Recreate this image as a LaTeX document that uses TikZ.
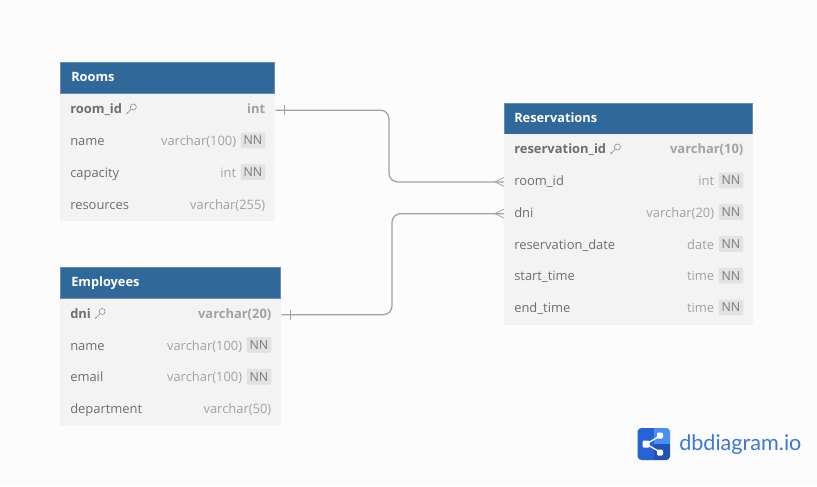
\documentclass[tikz,border=0pt]{standalone}
\usepackage{fontspec}
\setmainfont{Open Sans}
\newfontfamily\logofont{Lato}
\usetikzlibrary{calc}
\definecolor{pagebg}{HTML}{FCFCFD}
\definecolor{headblue}{HTML}{31689A}
\definecolor{rowbg}{HTML}{F3F3F3}
\definecolor{nametxt}{HTML}{6E6E6E}
\definecolor{typetxt}{HTML}{A2A2A2}
\definecolor{nnbg}{HTML}{E2E2E2}
\definecolor{nntxt}{HTML}{7C7C7C}
\definecolor{linkc}{HTML}{A0A1A8}
\definecolor{logodark}{HTML}{2563D6}
\definecolor{logolight}{HTML}{4A8FF5}
\definecolor{logotxt}{HTML}{3A78DC}
\tikzset{
  x=0.75pt,y=-0.75pt,
  tblhead/.style={anchor=north west,fill=headblue,draw=headblue!75!white,line width=0.3pt,inner sep=0pt,minimum height=23.6pt,text=white},
  tblrow/.style={anchor=north west,fill=rowbg,draw=none,inner sep=0pt,minimum height=23.81pt},
  headtxt/.style={anchor=west,text=white,font=\fontsize{9.6}{11}\selectfont\bfseries,inner sep=0pt,text height=7.2pt,text depth=2pt},
  coltxt/.style={anchor=west,yshift=-0.25pt,text=nametxt,font=\fontsize{9.7}{11}\selectfont,inner sep=0pt,text height=7.2pt,text depth=2pt},
  keytxt/.style={coltxt,font=\fontsize{9.7}{11}\selectfont\bfseries},
  typetx/.style={anchor=east,yshift=-0.25pt,text=typetxt,font=\fontsize{9.7}{11}\selectfont,inner sep=0pt,text height=7.2pt,text depth=2pt},
  keytype/.style={typetx,font=\fontsize{9.7}{11}\selectfont\bfseries},
  nnbadge/.style={anchor=east,yshift=1.1pt,fill=nnbg,text=nntxt,rounded corners=1pt,font=\fontsize{9.3}{10}\selectfont,inner xsep=2.2pt,inner ysep=0pt,minimum height=11.8pt,text height=6.8pt,text depth=0pt},
  link/.style={draw=linkc,line width=0.95pt,rounded corners=6.5pt},
  linkmark/.style={draw=linkc,line width=0.6pt},
  keyicon/.style={draw=nametxt!80!white,line width=0.45pt}
}
\newcommand{\keyglyph}[1]{%
  \draw[keyicon] ($(#1)+(2.5,-2.5)$) circle[radius=3];
  \draw[keyicon] ($(#1)+(0.3,-0.3)$) -- ($(#1)+(-4,4.3)$) -- ($(#1)+(-4,2.6)$);
}
\newcommand{\tblrowdraw}[7]{% name, x, y, width, label, type, NN?
  \node[tblrow,minimum width=#4*0.75pt] (#1) at (#2,#3) {};
  \node[coltxt] (#1-n) at ($(#1.west)+(10,0)$) {#5};
  \ifx&#7&
    \node[typetx] (#1-t) at ($(#1.east)+(-10,0)$) {#6};
  \else
    \node[nnbadge] (#1-b) at ($(#1.east)+(-10,0)$) {NN};
    \coordinate (#1-c) at (#1-b.west |- #1.east);
    \node[typetx] (#1-t) at ($(#1-c)+(-4,0)$) {#6};
  \fi
}
\newcommand{\tblkeydraw}[6]{% name, x, y, width, label, type
  \node[tblrow,minimum width=#4*0.75pt] (#1) at (#2,#3) {};
  \node[keytxt] (#1-n) at ($(#1.west)+(10,0)$) {#5};
  \node[keytype] (#1-t) at ($(#1.east)+(-10,0)$) {#6};
  \coordinate (#1-k) at ($(#1-n.east)+(8.5,-1)$);
  \keyglyph{#1-k}
}
\begin{document}
\begin{tikzpicture}
\useasboundingbox (0,0) rectangle (817,486);
\fill[pagebg] (0,0) rectangle (817,486);

% Rooms
\node[tblhead,minimum width=160.5pt] (rooms) at (60,62) {};
\node[headtxt] (roomsT) at ($(rooms.west)+(11,0)$) {Rooms};
\tblkeydraw{rid}{60}{94}{215}{room\_id}{int}
\tblrowdraw{rname}{60}{125.75}{215}{name}{varchar(100)}{1}
\tblrowdraw{rcap}{60}{157.5}{215}{capacity}{int}{1}
\tblrowdraw{rres}{60}{189.25}{215}{resources}{varchar(255)}{}

% Employees
\node[tblhead,minimum width=165pt] (emp) at (60,267) {};
\node[headtxt] (empT) at ($(emp.west)+(11,0)$) {Employees};
\tblkeydraw{edni}{60}{298.5}{221}{dni}{varchar(20)}
\tblrowdraw{ename}{60}{330.25}{221}{name}{varchar(100)}{1}
\tblrowdraw{eemail}{60}{362}{221}{email}{varchar(100)}{1}
\tblrowdraw{edept}{60}{393.75}{221}{department}{varchar(50)}{}

% Reservations
\node[tblhead,minimum width=186pt] (res) at (504,103) {};
\node[headtxt] (resT) at ($(res.west)+(10,0)$) {Reservations};
\tblkeydraw{rsid}{504}{134}{249}{reservation\_id}{varchar(10)}
\tblrowdraw{rsroom}{504}{165.75}{249}{room\_id}{int}{1}
\tblrowdraw{rsdni}{504}{197.5}{249}{dni}{varchar(20)}{1}
\tblrowdraw{rsdate}{504}{229.25}{249}{reservation\_date}{date}{1}
\tblrowdraw{rsstart}{504}{261}{249}{start\_time}{time}{1}
\tblrowdraw{rsend}{504}{292.75}{249}{end\_time}{time}{1}

% Connectors
\coordinate (m1) at (389,200);
\coordinate (m2) at (392,200);
\draw[link] (rid.east) -- (rid.east -| m1) -- (rsroom.west -| m1) -- (rsroom.west);
\draw[link] (edni.east) -- (edni.east -| m2) -- (rsdni.west -| m2) -- (rsdni.west);
\draw[linkmark] ($(rid.east)+(9,-5)$) -- ($(rid.east)+(9,5)$);
\draw[linkmark] ($(edni.east)+(9,-5)$) -- ($(edni.east)+(9,5)$);
\draw[linkmark] ($(rsroom.west)+(-9,0)$) -- ($(rsroom.west)+(0,-4.5)$);
\draw[linkmark] ($(rsroom.west)+(-9,0)$) -- ($(rsroom.west)+(0,4.5)$);
\draw[linkmark] ($(rsdni.west)+(-9,0)$) -- ($(rsdni.west)+(0,-4.5)$);
\draw[linkmark] ($(rsdni.west)+(-9,0)$) -- ($(rsdni.west)+(0,4.5)$);

% Logo
\fill[logodark,rounded corners=3pt] (637.5,428) rectangle (670,460);
\begin{scope}
\clip[rounded corners=3pt] (637.5,428) rectangle (670,460);
\fill[logolight] (654,428) rectangle (670,444);
\fill[logodark!85!black] (654,444) rectangle (670,460);
\end{scope}
\draw[white,line width=1pt] (660,436) -- (646,444) -- (660,452);
\fill[white,rounded corners=0.8pt] (642.5,440.5) rectangle (649.5,447.5);
\fill[white,rounded corners=0.8pt] (657,432.5) rectangle (663,438.5);
\fill[white,rounded corners=0.8pt] (657,449.5) rectangle (663,455.5);
\node[anchor=west,inner sep=0pt,text=logotxt,font=\logofont\fontsize{16.2}{18}\selectfont] (logo) at (679,444.5) {dbdiagram.io};
\end{tikzpicture}
\end{document}
